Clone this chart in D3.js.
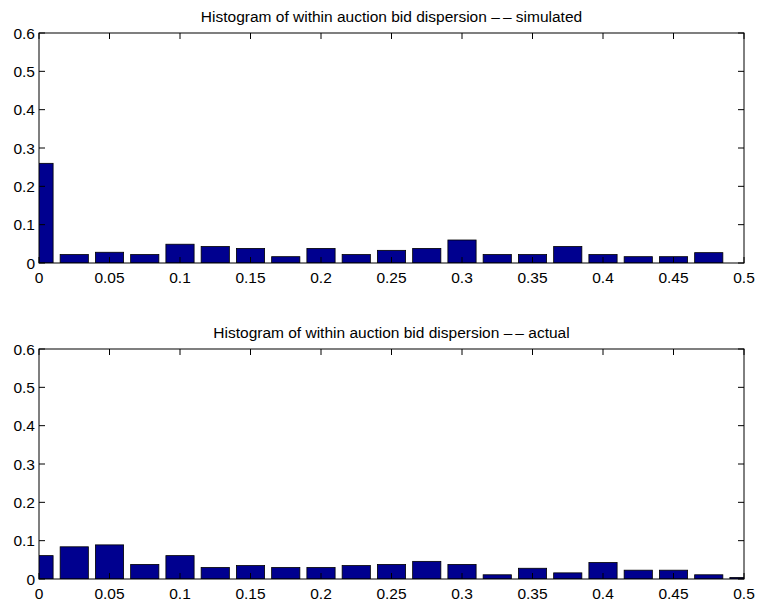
<!DOCTYPE html>
<html>
<head>
<meta charset="utf-8">
<script src="https://cdn.jsdelivr.net/npm/d3@7"></script>
<style>
  body { margin: 0; background: #fff; }
  svg text { font-family: "Liberation Sans", Arial, sans-serif; }
</style>
</head>
<body>
<div id="chart"></div>
<script>
// bin centres (0 .. 0.5 step 0.025)
const binCenters = [0, 0.025, 0.05, 0.075, 0.1, 0.125, 0.15, 0.175, 0.2, 0.225, 0.25,
  0.275, 0.3, 0.325, 0.35, 0.375, 0.4, 0.425, 0.45, 0.475, 0.5];

const simulatedValues = [0.26, 0.022, 0.028, 0.022, 0.049, 0.043, 0.038, 0.0165, 0.038, 0.022,
  0.033, 0.038, 0.06, 0.022, 0.022, 0.043, 0.022, 0.0165, 0.0165, 0.027, 0];

const actualValues = [0.061, 0.084, 0.089, 0.038, 0.061, 0.030, 0.035, 0.030, 0.030, 0.035,
  0.038, 0.046, 0.038, 0.011, 0.028, 0.016, 0.043, 0.023, 0.023, 0.011, 0.004];

const xTicks = [0, 0.05, 0.1, 0.15, 0.2, 0.25, 0.3, 0.35, 0.4, 0.45, 0.5];
const yTicks = [0, 0.1, 0.2, 0.3, 0.4, 0.5, 0.6];

const panels = [
  { title: "Histogram of within auction bid dispersion \u2013\u2009\u2013 simulated", values: simulatedValues, top: 33 },
  { title: "Histogram of within auction bid dispersion \u2013\u2009\u2013 actual", values: actualValues, top: 349 }
];

const width = 758, height = 604;
const left = 39, right = 744, plotH = 230;
const barWidth = 0.02;
const tickLen = 6;
const fontSize = 15.5;

const svg = d3.select("#chart").append("svg")
  .attr("width", width)
  .attr("height", height);

const x = d3.scaleLinear().domain([0, 0.5]).range([left, right]);

panels.forEach((p, pi) => {
  const y = d3.scaleLinear().domain([0, 0.6]).range([p.top + plotH, p.top]);
  const g = svg.append("g");

  const clipId = "clip" + pi;
  g.append("clipPath").attr("id", clipId)
    .append("rect")
    .attr("x", left).attr("y", p.top)
    .attr("width", right - left).attr("height", plotH);

  // bars
  g.append("g").attr("clip-path", `url(#${clipId})`)
    .selectAll("rect")
    .data(binCenters.map((c, i) => ({ c, v: p.values[i] })).filter(d => d.v > 0))
    .enter()
    .append("rect")
    .attr("x", d => x(d.c - barWidth / 2))
    .attr("width", d => x(d.c + barWidth / 2) - x(d.c - barWidth / 2))
    .attr("y", d => y(d.v))
    .attr("height", d => y(0) - y(d.v))
    .attr("fill", "#00008f")
    .attr("stroke", "#000")
    .attr("stroke-width", 0.8);

  // inward ticks on all four sides
  const ticks = g.append("g").attr("stroke", "#000").attr("stroke-width", 1);
  xTicks.forEach(t => {
    ticks.append("line")
      .attr("x1", x(t)).attr("x2", x(t))
      .attr("y1", p.top).attr("y2", p.top + tickLen);
    ticks.append("line")
      .attr("x1", x(t)).attr("x2", x(t))
      .attr("y1", p.top + plotH).attr("y2", p.top + plotH - tickLen);
  });
  yTicks.forEach(t => {
    ticks.append("line")
      .attr("x1", left).attr("x2", left + tickLen)
      .attr("y1", y(t)).attr("y2", y(t));
    ticks.append("line")
      .attr("x1", right).attr("x2", right - tickLen)
      .attr("y1", y(t)).attr("y2", y(t));
  });

  // box
  g.append("rect")
    .attr("x", left).attr("y", p.top)
    .attr("width", right - left).attr("height", plotH)
    .attr("fill", "none")
    .attr("stroke", "#000")
    .attr("stroke-width", 1);

  // tick labels
  g.append("g").selectAll("text")
    .data(xTicks).enter().append("text")
    .attr("x", d => x(d))
    .attr("y", p.top + plotH + 20)
    .attr("text-anchor", "middle")
    .attr("font-size", fontSize + "px")
    .text(d => d3.format("")(d));

  g.append("g").selectAll("text")
    .data(yTicks).enter().append("text")
    .attr("x", left - 4)
    .attr("y", d => y(d) + 5.5)
    .attr("text-anchor", "end")
    .attr("font-size", fontSize + "px")
    .text(d => d3.format("")(d));

  // title
  g.append("text")
    .attr("x", (left + right) / 2)
    .attr("y", p.top - 11)
    .attr("text-anchor", "middle")
    .attr("font-size", fontSize + "px")
    .text(p.title);
});
</script>
</body>
</html>
